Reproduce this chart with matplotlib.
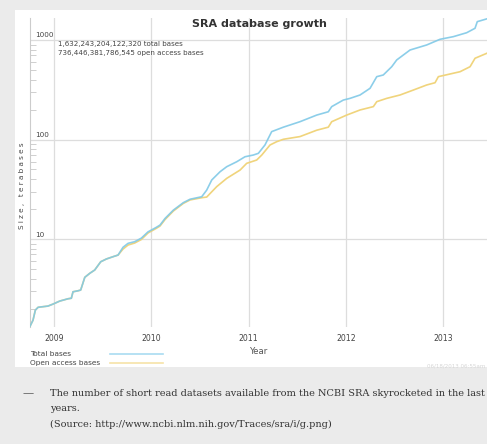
import matplotlib
matplotlib.use("Agg")
import matplotlib.pyplot as plt
from matplotlib.lines import Line2D
from matplotlib.patches import Rectangle

W, H = 487, 444

# Totals reported by SRA (bases)
total_bases = 1632243204122320
open_bases = 736446381786545

# Cumulative size over time, terabases (decimal years)
total_years = [2008.750, 2008.784, 2008.808, 2008.836, 2008.938, 2008.990,
               2009.059, 2009.144, 2009.178, 2009.195, 2009.247, 2009.274,
               2009.316, 2009.367, 2009.418, 2009.480, 2009.538, 2009.606,
               2009.658, 2009.709, 2009.761, 2009.829, 2009.897, 2009.966,
               2010.051, 2010.089, 2010.141, 2010.226, 2010.329, 2010.398,
               2010.518, 2010.569, 2010.621, 2010.706, 2010.775, 2010.878,
               2010.963, 2011.048, 2011.100, 2011.168, 2011.237, 2011.357,
               2011.528, 2011.700, 2011.819, 2011.854, 2011.973, 2012.042,
               2012.145, 2012.248, 2012.317, 2012.384, 2012.471, 2012.522,
               2012.659, 2012.830, 2012.967, 2013.104, 2013.241, 2013.327,
               2013.350, 2013.450]
total_tb = [1.31, 1.53, 1.93, 2.06, 2.12, 2.22,
            2.38, 2.51, 2.54, 2.95, 3.02, 3.07,
            4.12, 4.52, 4.88, 5.91, 6.30, 6.64,
            6.90, 8.26, 9.05, 9.40, 10.2, 11.8,
            13.1, 13.8, 16.1, 19.5, 23.2, 25.1,
            26.6, 31.0, 39.2, 47.4, 53.3, 59.8,
            67.1, 69.8, 72.6, 88.1, 120, 133,
            151, 176, 190, 214, 249, 259,
            280, 327, 428, 445, 539, 630,
            793, 891, 1016, 1080, 1183, 1311,
            1528]

open_years = [2008.750, 2008.784, 2008.808, 2008.836, 2008.938, 2008.990,
              2009.059, 2009.144, 2009.178, 2009.195, 2009.247, 2009.274,
              2009.316, 2009.367, 2009.418, 2009.480, 2009.538, 2009.606,
              2009.658, 2009.709, 2009.761, 2009.829, 2009.897, 2009.966,
              2010.051, 2010.089, 2010.141, 2010.226, 2010.329, 2010.398,
              2010.518, 2010.569, 2010.672, 2010.775, 2010.912, 2010.980,
              2011.083, 2011.135, 2011.220, 2011.289, 2011.357, 2011.528,
              2011.700, 2011.819, 2011.854, 2012.008, 2012.145, 2012.282,
              2012.317, 2012.419, 2012.556, 2012.693, 2012.830, 2012.916,
              2012.950, 2013.173, 2013.276, 2013.327, 2013.450]
open_tb = [1.31, 1.53, 1.93, 2.06, 2.12, 2.22,
           2.38, 2.51, 2.54, 2.95, 3.02, 3.07,
           4.12, 4.52, 4.88, 5.91, 6.30, 6.64,
           6.90, 7.92, 8.70, 9.12, 9.88, 11.5,
           12.8, 13.5, 15.7, 19.1, 22.8, 24.7,
           26.0, 26.4, 33.6, 40.7, 49.3, 57.6,
           62.2, 69.8, 88.1, 95.1, 100.5, 107,
           124, 133, 151, 176, 198, 214,
           240, 259, 280, 314, 353, 372,
           428, 480, 539, 655]

# latest point is the reported total
total_tb = total_tb + [total_bases / 1e12]
open_tb = open_tb + [open_bases / 1e12]

year_ticks = [2009, 2010, 2011, 2012, 2013]
size_ticks = [10, 100, 1000]

BLUE = "#80c9e7"
YELLOW = "#f0d47c"
GRID = "#dddddd"
TEXT = "#444444"


def fx(x):
    return x / W


def fy(y):
    return 1 - y / H


fig = plt.figure(figsize=(W / 100, H / 100), dpi=100, facecolor="#ebebeb")

# white card behind the chart
fig.add_artist(Rectangle((fx(15), fy(367)), 1 - fx(15), fy(10) - fy(367),
                         transform=fig.transFigure, facecolor="white",
                         edgecolor="none", zorder=0))

left, right, top, bottom = 30, 487, 18, 327
ax = fig.add_axes([fx(left), fy(bottom), fx(right) - fx(left), fy(top) - fy(bottom)])
ax.set_facecolor("none")

ax.plot(open_years, open_tb, color=YELLOW, lw=1.2, zorder=3)
ax.plot(total_years, total_tb, color=BLUE, lw=1.2, alpha=0.9, zorder=4)

ax.set_yscale("log")
ax.set_xlim(2008.753, 2013.45)
ax.set_ylim(1.306, 1663)

ax.set_xticks(year_ticks)
ax.set_xticklabels([str(y) for y in year_ticks], fontsize=5.6, color=TEXT)
ax.tick_params(axis="x", length=0, pad=5)

ax.set_yticks(size_ticks)
ax.set_yticklabels([])
ax.tick_params(axis="y", which="major", length=0)
ax.tick_params(axis="y", which="minor", direction="in", length=4,
               width=0.6, color="#c8c8c8")
ax.yaxis.set_minor_formatter(plt.NullFormatter())

ax.grid(True, which="major", color=GRID, lw=0.9)
for s in ["top", "right", "bottom"]:
    ax.spines[s].set_visible(False)
ax.spines["left"].set_color("#cccccc")
ax.spines["left"].set_linewidth(0.8)

for v in size_ticks:
    ax.annotate(str(v), xy=(0, v), xycoords=("axes fraction", "data"),
                xytext=(5, 1.5), textcoords="offset pixels",
                fontsize=5.2, color=TEXT, ha="left", va="bottom")

fig.text(fx(58), fy(44), f"{total_bases:,} total bases", fontsize=5.1,
         color=TEXT, ha="left", va="center")
fig.text(fx(58), fy(52.5), f"{open_bases:,} open access bases", fontsize=5.1,
         color=TEXT, ha="left", va="center")

fig.text(fx(259), fy(24), "SRA database growth", fontsize=8, fontweight="bold",
         color="#333333", ha="center", va="center")

fig.text(fx(22), fy(186), "S i z e ,   t e r a b a s e s", fontsize=5.2,
         color=TEXT, rotation=90, ha="center", va="center")
fig.text(fx(259), fy(351), "Year", fontsize=6.2, color="#555555",
         ha="center", va="center")

# legend
fig.text(fx(30), fy(354), "Total bases", fontsize=5.3, color=TEXT,
         ha="left", va="center")
fig.text(fx(30), fy(362.5), "Open access bases", fontsize=5.3, color=TEXT,
         ha="left", va="center")
fig.add_artist(Line2D([fx(110), fx(163)], [fy(354), fy(354)], color="#a9dcf1",
                      lw=1.2, transform=fig.transFigure))
fig.add_artist(Line2D([fx(110), fx(163)], [fy(362.5), fy(362.5)], color="#f6e3a8",
                      lw=1.2, transform=fig.transFigure))

fig.text(fx(485), fy(365.5), "06/18/2013 06:55am", fontsize=4.0, color="#d6d6d6",
         ha="right", va="center")

# caption below the card
fig.text(fx(23), fy(393), "\u2014", fontsize=8, color="#555555",
         ha="left", va="center", family="DejaVu Serif")
caption = [
    "The number of short read datasets available from the NCBI SRA skyrocketed in the last few",
    "years.",
    "(Source: http://www.ncbi.nlm.nih.gov/Traces/sra/i/g.png)",
]
for i, line in enumerate(caption):
    fig.text(fx(50), fy(393 + i * 15.5), line, fontsize=7.0, color="#333333",
             ha="left", va="center", family="DejaVu Serif")

fig.savefig("out.png", dpi=100, facecolor=fig.get_facecolor())
